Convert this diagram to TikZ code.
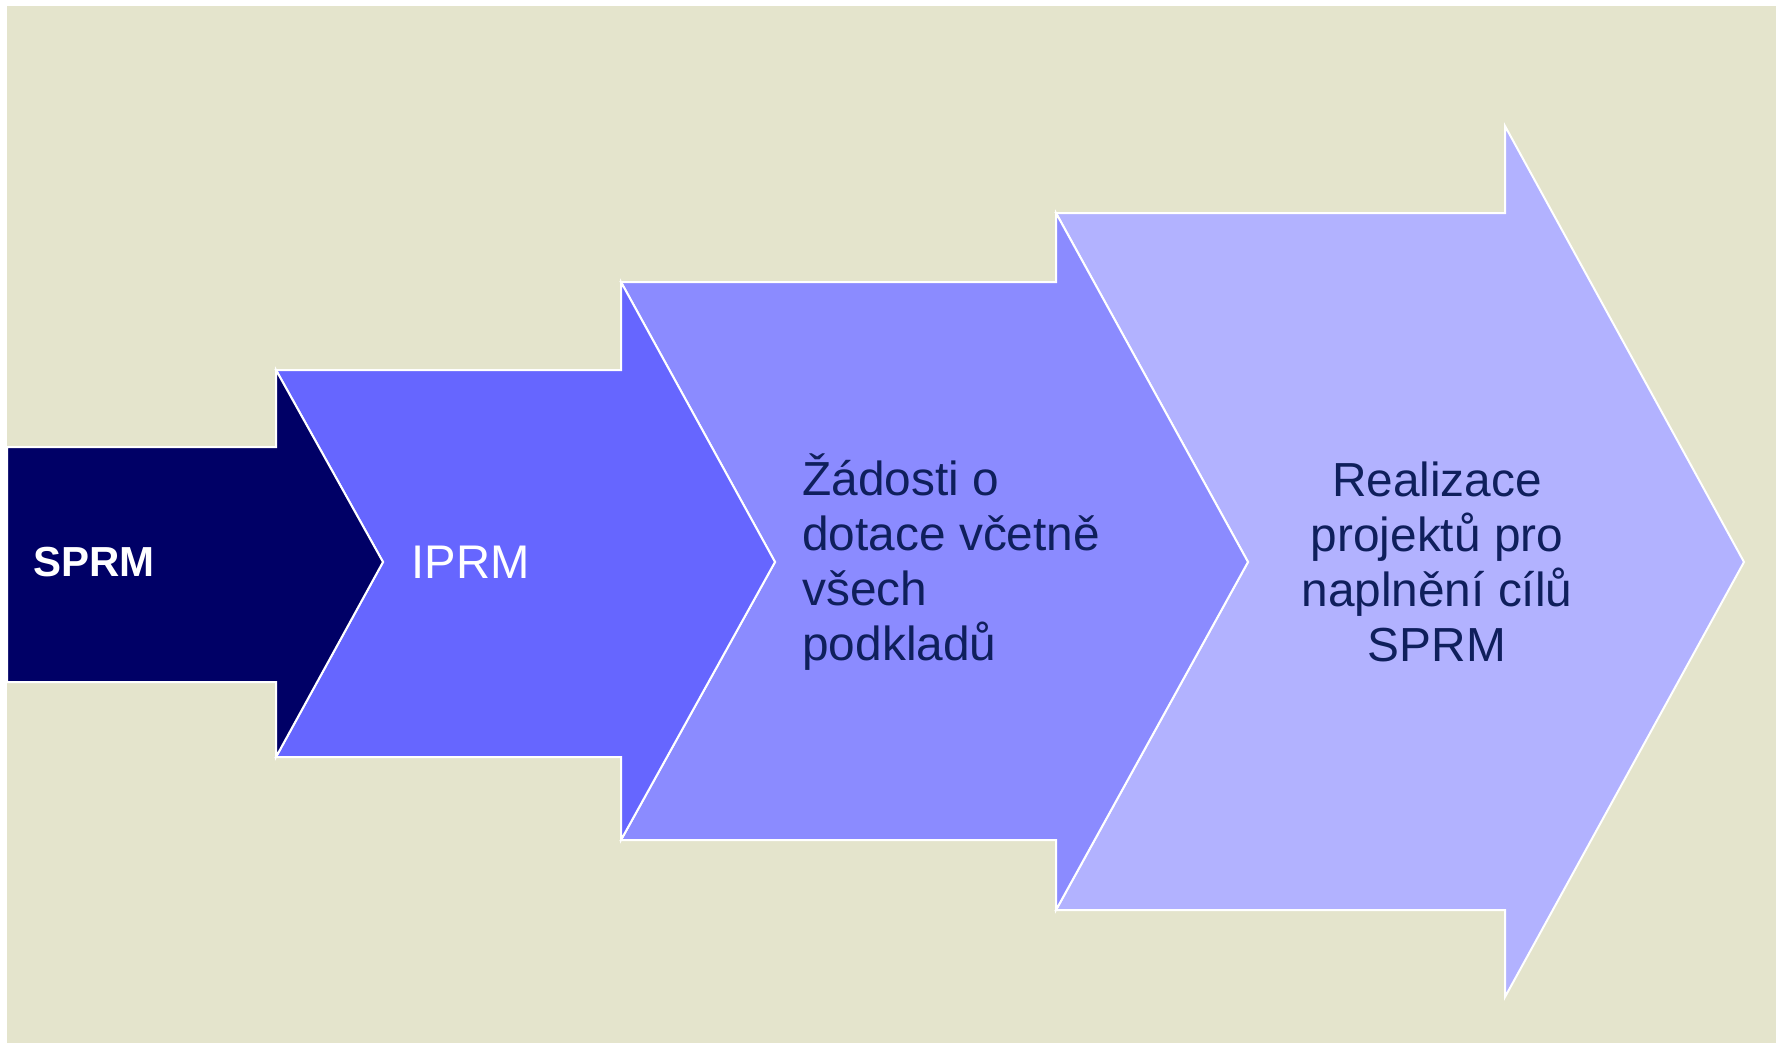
\documentclass[tikz,border=0pt]{standalone}
\usepackage{fontspec}
\setmainfont{Liberation Sans}
\usepackage{tikz}
\definecolor{bgbeige}{HTML}{E4E4CC}
\definecolor{navy}{HTML}{000066}
\definecolor{stagetwo}{HTML}{6666FF}
\definecolor{stagethree}{HTML}{8B8BFF}
\definecolor{stagefour}{HTML}{B2B2FF}
\definecolor{labelblue}{HTML}{0F1F5C}
\tikzset{
  stagearrow/.style={draw=white,line width=1pt,line join=miter},
  stagelabel/.style={inner sep=0pt,font=\fontsize{23.9}{27.4}\selectfont}
}
\begin{document}
\begin{tikzpicture}[x=0.5pt,y=-0.5pt]
% background
\useasboundingbox(0,0)rectangle(1785,1044);
\fill[white](0,0)rectangle(1785,1044);
\fill[bgbeige](7,6)rectangle(1776,1043);
%arrows
\filldraw[stagearrow,fill=stagefour](1056,213)--(1505,213)--(1505,126)--(1744,562)--(1505,997)--(1505,910)--(1056,910)--(1248,562)--cycle;
\filldraw[stagearrow,fill=stagethree](621,282)--(1056,282)--(1056,213)--(1248,562)--(1056,910)--(1056,840)--(621,840)--(775,562)--cycle;
\filldraw[stagearrow,fill=stagetwo](276,370)--(621,370)--(621,282)--(775,562)--(621,840)--(621,757)--(276,757)--(383,562)--cycle;
\filldraw[stagearrow,fill=navy](7,447)--(276,447)--(276,370)--(383,562)--(276,757)--(276,682)--(7,682)--cycle;
%labels
\node[stagelabel,anchor=west,text=white,font=\bfseries\fontsize{21}{25}\selectfont](sprm)at(33,562){SPRM};
\node[stagelabel,anchor=west,text=white,font=\fontsize{23.6}{27.4}\selectfont](iprm)at(411,562){IPRM};
\node[stagelabel,anchor=west,align=left,text=labelblue](zadosti)at(802,562){Žádosti o\\dotace včetně\\všech\\podkladů};
\node[stagelabel,align=center,text=labelblue](realizace)at(1437,562){Realizace\\projektů pro\\naplnění cílů\\SPRM};
\end{tikzpicture}
\end{document}
